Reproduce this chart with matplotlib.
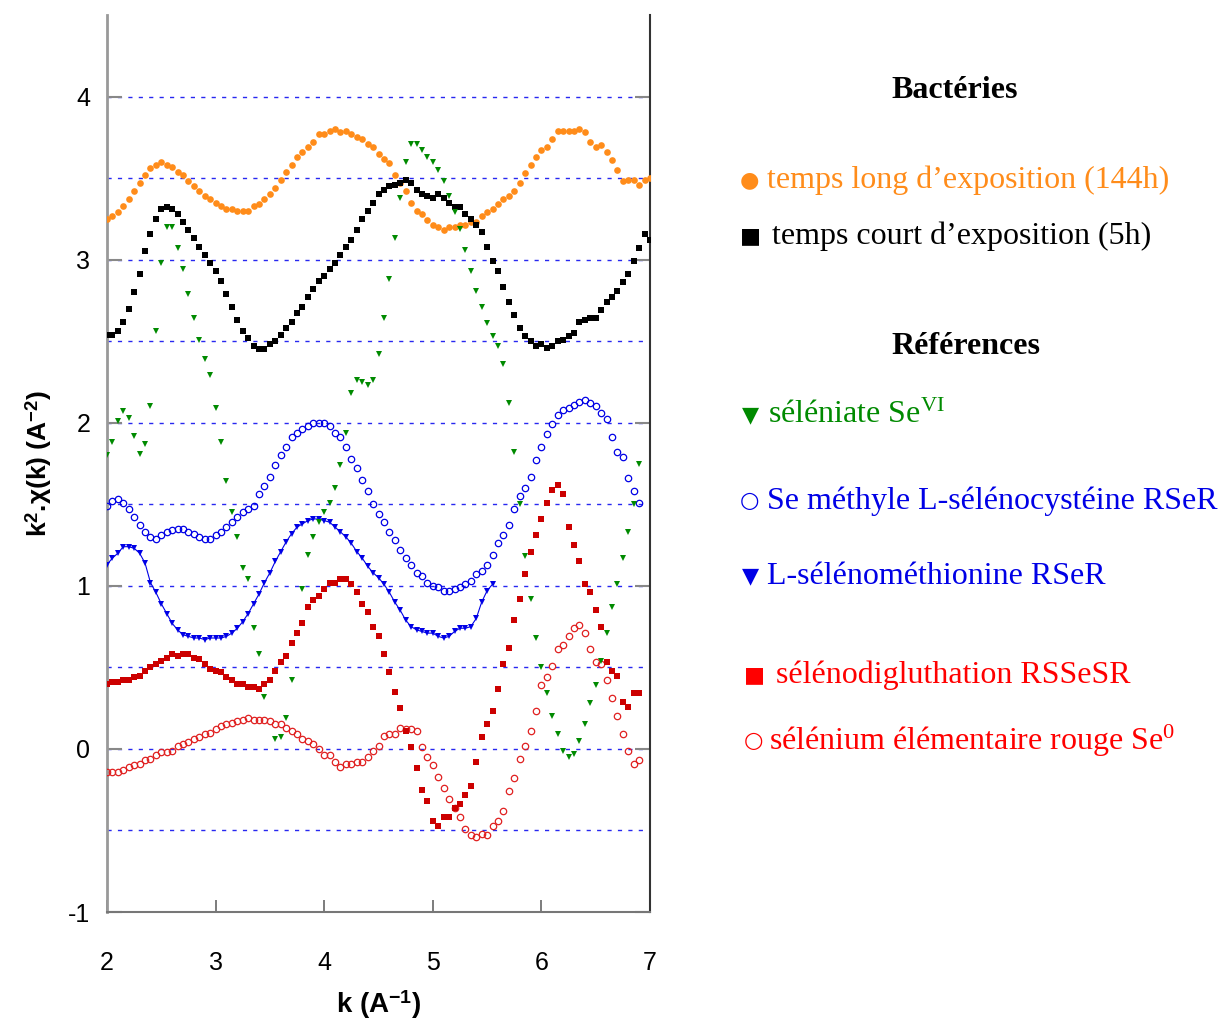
import numpy as np
import matplotlib
matplotlib.use('Agg')
import matplotlib.pyplot as plt

plt.rcParams['mathtext.fontset'] = 'custom'
plt.rcParams['mathtext.rm'] = 'Liberation Serif'
plt.rcParams['mathtext.it'] = 'Liberation Serif:italic'
plt.rcParams['mathtext.bf'] = 'Liberation Sans:bold'
plt.rcParams['axes.unicode_minus'] = False

# k grid (A^-1), 0.05 step
k = np.linspace(2.0, 7.0, 101)

# temps long d'exposition (144h)
long_144h = [3.25, 3.27, 3.29, 3.33, 3.37, 3.42, 3.47, 3.52, 3.56, 3.58,
             3.60, 3.58, 3.57, 3.54, 3.52, 3.48, 3.45, 3.42, 3.39, 3.37,
             3.35, 3.33, 3.31, 3.31, 3.30, 3.30, 3.30, 3.33, 3.34, 3.37,
             3.40, 3.44, 3.49, 3.54, 3.58, 3.63, 3.66, 3.69, 3.72, 3.77,
             3.77, 3.79, 3.80, 3.78, 3.79, 3.77, 3.75, 3.74, 3.71, 3.69,
             3.65, 3.62, 3.59, 3.52, 3.47, 3.42, 3.35, 3.30, 3.28, 3.24,
             3.21, 3.20, 3.18, 3.20, 3.20, 3.21, 3.21, 3.23, 3.23, 3.27,
             3.29, 3.31, 3.34, 3.37, 3.39, 3.42, 3.47, 3.53, 3.58, 3.63,
             3.67, 3.69, 3.74, 3.79, 3.79, 3.79, 3.79, 3.80, 3.78, 3.72,
             3.69, 3.70, 3.66, 3.61, 3.55, 3.48, 3.49, 3.49, 3.46, 3.49,
             3.50]

# temps court d'exposition (5h)
court_5h = [2.54, 2.54, 2.56, 2.62, 2.70, 2.80, 2.91, 3.05, 3.16, 3.25,
            3.31, 3.32, 3.31, 3.28, 3.23, 3.18, 3.13, 3.08, 3.03, 2.98,
            2.93, 2.87, 2.79, 2.71, 2.63, 2.56, 2.52, 2.47, 2.45, 2.45,
            2.48, 2.50, 2.54, 2.58, 2.62, 2.67, 2.71, 2.77, 2.82, 2.87,
            2.90, 2.94, 2.98, 3.03, 3.08, 3.12, 3.18, 3.25, 3.30, 3.35,
            3.40, 3.43, 3.45, 3.46, 3.47, 3.49, 3.47, 3.43, 3.40, 3.39,
            3.38, 3.40, 3.38, 3.35, 3.32, 3.32, 3.28, 3.25, 3.21, 3.17,
            3.08, 2.99, 2.93, 2.83, 2.74, 2.66, 2.58, 2.53, 2.50, 2.47,
            2.48, 2.46, 2.47, 2.50, 2.51, 2.53, 2.55, 2.62, 2.63, 2.64,
            2.64, 2.69, 2.74, 2.77, 2.81, 2.86, 2.91, 2.99, 3.07, 3.16,
            3.12]

# séléniate Se(VI)
seleniate = [1.80, 1.88, 2.01, 2.07, 2.03, 1.92, 1.81, 1.87, 2.10, 2.56,
             2.98, 3.20, 3.20, 3.07, 2.94, 2.79, 2.64, 2.51, 2.39, 2.29,
             2.09, 1.88, 1.64, 1.45, 1.30, 1.11, 1.04, 0.74, 0.58, 0.32,
             np.nan, 0.06, 0.07, 0.19, 0.42, 0.71, 0.98, 1.19, 1.30, 1.39,
             1.45, 1.51, 1.60, 1.74, 1.94, 2.18, 2.26, 2.25, 2.23, 2.26,
             2.42, 2.64, 2.88, 3.13, 3.38, 3.60, 3.71, 3.71, 3.67, 3.63,
             3.60, 3.55, 3.48, 3.39, 3.29, 3.19, 3.06, 2.93, 2.81, 2.71,
             2.61, 2.53, 2.47, 2.36, 2.12, 1.82, 1.50, 1.18, 0.92, 0.68,
             0.50, 0.34, 0.20, 0.09, -0.01, -0.05, -0.03, 0.05, 0.15, 0.28,
             0.39, 0.54, 0.71, 0.87, 1.01, 1.17, 1.33, 1.50, 1.75]

# Se méthyle L-sélénocystéine
se_methyle = [1.49, 1.52, 1.53, 1.51, 1.47, 1.42, 1.37, 1.33, 1.30, 1.29,
              1.31, 1.33, 1.34, 1.35, 1.35, 1.33, 1.32, 1.30, 1.29, 1.29,
              1.31, 1.33, 1.36, 1.39, 1.42, 1.45, 1.47, 1.49, 1.56, 1.61,
              1.67, 1.74, 1.80, 1.85, 1.91, 1.94, 1.96, 1.98, 2.00, 2.00,
              2.00, 1.98, 1.94, 1.91, 1.85, 1.78, 1.72, 1.65, 1.58, 1.50,
              1.44, 1.39, 1.33, 1.28, 1.22, 1.17, 1.13, 1.08, 1.06, 1.02,
              1.00, 0.99, 0.97, 0.97, 0.98, 0.99, 1.01, 1.03, 1.07, 1.09,
              1.13, 1.19, 1.26, 1.31, 1.37, 1.47, 1.55, 1.60, 1.67, 1.77,
              1.85, 1.93, 1.99, 2.05, 2.08, 2.09, 2.11, 2.13, 2.14, 2.12,
              2.10, 2.06, 2.02, 1.91, 1.82, 1.79, 1.66, 1.58, 1.51]

# L-sélénométhionine
methionine = [1.13, 1.17, 1.20, 1.24, 1.24, 1.23, 1.20, 1.14, 1.02, 0.96,
              0.89, 0.83, 0.77, 0.73, 0.70, 0.69, 0.68, 0.68, 0.67, 0.68,
              0.68, 0.68, 0.69, 0.71, 0.74, 0.78, 0.83, 0.89, 0.95, 1.02,
              1.08, 1.15, 1.21, 1.27, 1.32, 1.36, 1.38, 1.40, 1.41, 1.41,
              1.40, 1.39, 1.36, 1.33, 1.30, 1.26, 1.21, 1.17, 1.12, 1.08,
              1.05, 1.01, 0.96, 0.90, 0.85, 0.79, 0.75, 0.73, 0.72, 0.71,
              0.71, 0.69, 0.68, 0.69, 0.72, 0.74, 0.74, 0.75, 0.80, 0.90,
              0.97, 1.01]

# sélénodigluthation RSSeSR
diglutathion = [0.40, 0.41, 0.41, 0.42, 0.42, 0.44, 0.45, 0.48, 0.50, 0.52,
                0.54, 0.56, 0.58, 0.57, 0.58, 0.58, 0.56, 0.55, 0.52, 0.49,
                0.48, 0.47, 0.44, 0.42, 0.40, 0.40, 0.38, 0.38, 0.37, 0.40,
                0.42, 0.48, 0.53, 0.57, 0.65, 0.71, 0.77, 0.87, 0.91, 0.94,
                0.98, 1.02, 1.02, 1.04, 1.04, 1.01, 0.96, 0.89, 0.84, 0.75,
                0.69, 0.58, 0.47, 0.35, 0.25, 0.11, 0.01, -0.12, -0.25, -0.32,
                -0.44, -0.47, -0.42, -0.42, -0.36, -0.34, -0.28, -0.23, -0.08, 0.07,
                0.15, 0.23, 0.37, 0.52, 0.62, 0.79, 0.92, 1.07, 1.21, 1.31,
                1.41, 1.51, 1.59, 1.62, 1.56, 1.36, 1.25, 1.15, 1.01, 0.96,
                0.85, 0.75, 0.53, 0.48, 0.45, 0.29, 0.26, 0.34, 0.34]

# sélénium élémentaire rouge Se0
se_rouge = [-0.14, -0.14, -0.14, -0.13, -0.11, -0.10, -0.09, -0.07, -0.06, -0.04,
            -0.02, -0.02, -0.01, 0.02, 0.03, 0.04, 0.06, 0.07, 0.09, 0.10,
            0.12, 0.14, 0.15, 0.16, 0.17, 0.18, 0.19, 0.18, 0.18, 0.18,
            0.17, 0.15, 0.15, 0.13, 0.11, 0.09, 0.06, 0.05, 0.03, 0.00,
            -0.04, -0.04, -0.08, -0.11, -0.09, -0.09, -0.08, -0.08, -0.05, -0.01,
            0.02, 0.08, 0.09, 0.09, 0.13, 0.12, 0.12, 0.11, 0.01, -0.05,
            -0.10, -0.17, -0.24, -0.31, -0.36, -0.42, -0.49, -0.53, -0.54, -0.52,
            -0.53, -0.47, -0.44, -0.38, -0.26, -0.18, -0.06, 0.02, 0.11, 0.23,
            0.39, 0.44, 0.51, 0.61, 0.64, 0.69, 0.74, 0.76, 0.71, 0.61,
            0.53, 0.52, 0.42, 0.31, 0.20, 0.09, -0.01, -0.09, -0.07]

c_orange = '#FF8C1A'
c_green = '#008A00'
c_blue = '#0000E6'
c_red = '#CC0000'
c_red2 = '#E02020'

fig = plt.figure(figsize=(12.19, 10.25), dpi=100)
ax = fig.add_axes([107/1219, 1-912/1025, 543/1219, 897/1025])

for yy in np.arange(-0.5, 4.01, 0.5):
    ax.axhline(yy, color='#2828F0', lw=1.0, ls=(0, (3, 4.5)), zorder=1)

ax.plot(k, long_144h, 'o', color=c_orange, ms=4.8, mew=0, zorder=3)
ax.plot(k, court_5h, 's', color='k', ms=4.3, mew=0, zorder=3)
ax.plot(k[:len(seleniate)], seleniate, 'v', color=c_green, ms=4.5, mew=0, zorder=4)
ax.plot(k[:len(se_methyle)], se_methyle, 'o', mfc='none', mec=c_blue, ms=4.6, mew=0.9, zorder=3)
ax.plot(k[:len(methionine)], methionine, '-v', color=c_blue, lw=0.8, ms=4.5, mew=0, zorder=3)
ax.plot(k[:len(diglutathion)], diglutathion, 's', color=c_red, ms=4.5, mew=0, zorder=5)
ax.plot(k[:len(se_rouge)], se_rouge, 'o', mfc='none', mec=c_red2, ms=4.6, mew=0.9, zorder=3)

ax.set_xlim(2, 7)
ax.set_ylim(-1, 4.5)
ax.set_xticks([2, 3, 4, 5, 6, 7])
ax.set_yticks([-1, 0, 1, 2, 3, 4])
ax.tick_params(axis='x', direction='in', length=9, width=1.2, color='#666666',
               pad=28, labelsize=18)
ax.tick_params(axis='y', direction='in', length=11, width=1.5, color='#888888',
               pad=12, labelsize=18, right=True)
for t in ax.get_xticklabels() + ax.get_yticklabels():
    t.set_fontfamily('Liberation Sans')

ax.spines['top'].set_visible(False)
ax.spines['left'].set_color('#999999')
ax.spines['left'].set_linewidth(2)
ax.spines['bottom'].set_color('#777777')
ax.spines['bottom'].set_linewidth(1.5)
ax.spines['right'].set_color('#333333')
ax.spines['right'].set_linewidth(1.5)

ax.set_xlabel('k (A$^{\\mathbf{-1}}$)', fontsize=20, fontweight='bold',
              family='Liberation Sans', labelpad=10)
ax.set_ylabel('k$^{\\mathbf{2}}$.χ(k) (A$^{\\mathbf{-2}}$)', fontsize=19,
              fontweight='bold', family='Liberation Sans', labelpad=10)

# legend panel
serif = 'Liberation Serif'
fs = 23


def fx(px):
    return px / 1219


def fy(py):
    return 1 - py / 1025


fig.text(fx(955), fy(90), 'Bactéries', fontsize=fs, fontweight='bold', family=serif,
         ha='center', va='center')
fig.text(fx(966), fy(346), 'Références', fontsize=fs, fontweight='bold', family=serif,
         ha='center', va='center')

entries = [
    ('●', c_orange, 749, 180, 767, 'temps long d’exposition (144h)', c_orange),
    ('■', 'k', 750, 236, 772, 'temps court d’exposition (5h)', 'k'),
    ('▼', c_green, 750, 415, 768, 'séléniate Se$^{\\mathrm{VI}}$', c_green),
    ('○', c_blue, 749, 501, 767, 'Se méthyle L-sélénocystéine RSeR', c_blue),
    ('▼', c_blue, 750, 576, 767, 'L-sélénométhionine RSeR', c_blue),
    ('■', '#FF0000', 754, 675, 776, 'sélénodigluthation RSSeSR', '#FF0000'),
    ('○', '#FF0000', 753, 741, 769, 'sélénium élémentaire rouge Se$^{\\mathrm{0}}$', '#FF0000'),
]
for sym, sc, sx, sy, tx, label, tc in entries:
    fig.text(fx(sx), fy(sy), sym, fontsize=16, color=sc, family='DejaVu Sans',
             ha='center', va='center')
    fig.text(fx(tx), fy(sy), label, fontsize=fs, color=tc, family=serif,
             ha='left', va='center')

plt.savefig('out.png', dpi=100)
